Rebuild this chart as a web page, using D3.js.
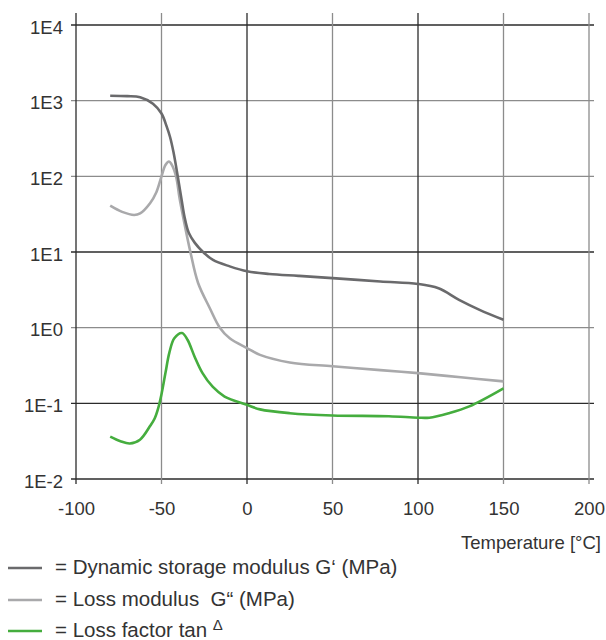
<!DOCTYPE html>
<html>
<head>
<meta charset="utf-8">
<script src="https://cdn.jsdelivr.net/npm/d3@7"></script>
<style>
  html, body { margin: 0; padding: 0; background: #fff; }
  svg { display: block; }
  text { font-family: "Liberation Sans", Arial, Helvetica, sans-serif; fill: #333; }
</style>
</head>
<body>
<svg id="chart" width="606" height="640"></svg>
<script>
// ---- data ----
const xTicks = [-100, -50, 0, 50, 100, 150, 200];
const xTickLabels = ["-100", "-50", "0", "50", "100", "150", "200"];
const yTicks = [1e-2, 1e-1, 1, 10, 100, 1000, 10000];
const yTickLabels = ["1E-2", "1E-1", "1E0", "1E1", "1E2", "1E3", "1E4"];
const xTitle = "Temperature [°C]";

const storageTemp = [-80, -70, -62.5, -55, -50, -47, -45, -43, -40.5, -38.3, -36.4, -34, -30.5, -25.7, -19.9, -10.1, 0, 13, 30, 50, 78, 100, 112, 124, 136, 150];
const storageVal  = [1161, 1148, 1109, 912, 676, 457, 331, 209, 100, 50, 28.2, 17.8, 13.2, 10, 7.85, 6.46, 5.56, 5.13, 4.84, 4.52, 4.07, 3.78, 3.31, 2.33, 1.72, 1.27];

const lossTemp = [-80, -73, -66, -62.5, -56.7, -53, -50, -47.7, -45.6, -44.2, -41.5, -39.5, -37.4, -33.1, -28.6, -21.8, -15.9, -10.1, 0, 7.6, 25, 50, 78, 100, 125, 150];
const lossVal  = [41, 33.9, 30.9, 32.4, 44.2, 61.7, 100, 141, 157, 145, 100, 52.5, 29.5, 10, 3.89, 1.82, 1.0, 0.724, 0.537, 0.437, 0.347, 0.309, 0.275, 0.251, 0.221, 0.195];

const tanTemp = [-80, -74, -68.5, -62.6, -56.7, -54, -52, -50, -47.7, -45.4, -42.5, -38, -34.8, -30.7, -26, -20.1, -13.1, 0, 7.6, 25, 50, 83, 100, 106.6, 118, 130, 150];
const tanVal  = [0.0363, 0.0316, 0.0295, 0.0331, 0.0501, 0.0631, 0.0851, 0.132, 0.251, 0.468, 0.724, 0.851, 0.692, 0.417, 0.251, 0.166, 0.123, 0.0955, 0.0832, 0.0741, 0.0692, 0.0676, 0.0646, 0.0646, 0.0741, 0.0912, 0.158];

const legendLabels = ["= Dynamic storage modulus G‘ (MPa)", "= Loss modulus  G“ (MPa)", "= Loss factor tan "];
const seriesColors = ["#6a6a6c", "#a9a9ab", "#45ad3e"];

// ---- layout ----
const svg = d3.select("#chart");
const x = d3.scaleLinear().domain([-100, 200]).range([76, 589]);
const y = d3.scaleLog().domain([1e-2, 1e4]).range([479, 25]);

const dark = "#2b2b2b", grey = "#8c8c8c";
const vColors = [dark, grey, dark, grey, dark, grey, grey];
const hColors = [dark, dark, grey, dark, grey, grey, dark];

// horizontal grid
svg.append("g").selectAll("line").data(yTicks).join("line")
  .attr("x1", 71).attr("x2", 594)
  .attr("y1", d => y(d)).attr("y2", d => y(d))
  .attr("stroke", (d, i) => hColors[i]).attr("stroke-width", 1.3);

// vertical grid
svg.append("g").selectAll("line").data(xTicks).join("line")
  .attr("x1", d => x(d)).attr("x2", d => x(d))
  .attr("y1", 13).attr("y2", 484)
  .attr("stroke", (d, i) => vColors[i]).attr("stroke-width", 1.3);

// axes (labels only)
const yAxis = d3.axisLeft(y).tickValues(yTicks).tickSize(0).tickPadding(13)
  .tickFormat((d, i) => yTickLabels[i]);
const gy = svg.append("g").attr("transform", "translate(76,0)").call(yAxis);
gy.select(".domain").remove();
gy.selectAll("text").attr("font-size", "18.5px").attr("dy", "0.45em")
  .style("font-family", "'Liberation Sans', Arial, sans-serif").attr("fill", "#333");

const xAxis = d3.axisBottom(x).tickValues(xTicks).tickSize(0).tickPadding(0)
  .tickFormat((d, i) => xTickLabels[i]);
const gx = svg.append("g").attr("transform", "translate(0,479)").call(xAxis);
gx.select(".domain").remove();
gx.selectAll("text").attr("font-size", "18.5px").attr("dy", null).attr("y", 36)
  .style("font-family", "'Liberation Sans', Arial, sans-serif").attr("fill", "#333");

svg.append("text").attr("x", 601).attr("y", 549).attr("text-anchor", "end")
  .attr("font-size", "18.5px").text(xTitle);

// series
const series = [
  storageTemp.map((t, i) => [t, storageVal[i]]),
  lossTemp.map((t, i) => [t, lossVal[i]]),
  tanTemp.map((t, i) => [t, tanVal[i]])
];
const line = d3.line().x(d => x(d[0])).y(d => y(d[1])).curve(d3.curveCatmullRom.alpha(0.5));
const drawOrder = [1, 2, 0];
drawOrder.forEach(k => {
  svg.append("path").attr("d", line(series[k])).attr("fill", "none")
    .attr("stroke", seriesColors[k]).attr("stroke-width", 2.6)
    .attr("stroke-linecap", "butt").attr("stroke-linejoin", "round");
});

// legend
const legendY = [568, 600, 631];
legendLabels.forEach((lab, i) => {
  svg.append("line").attr("x1", 8).attr("x2", 42).attr("y1", legendY[i]).attr("y2", legendY[i])
    .attr("stroke", seriesColors[i]).attr("stroke-width", 2.6);
  const t = svg.append("text").attr("x", 55).attr("y", legendY[i] + 6)
    .attr("font-size", "20.5px").style("white-space", "pre").text(lab);
  if (i === 2) {
    t.append("tspan").attr("font-size", "15px").attr("dy", "-7").text("Δ");
  }
});
</script>
</body>
</html>
